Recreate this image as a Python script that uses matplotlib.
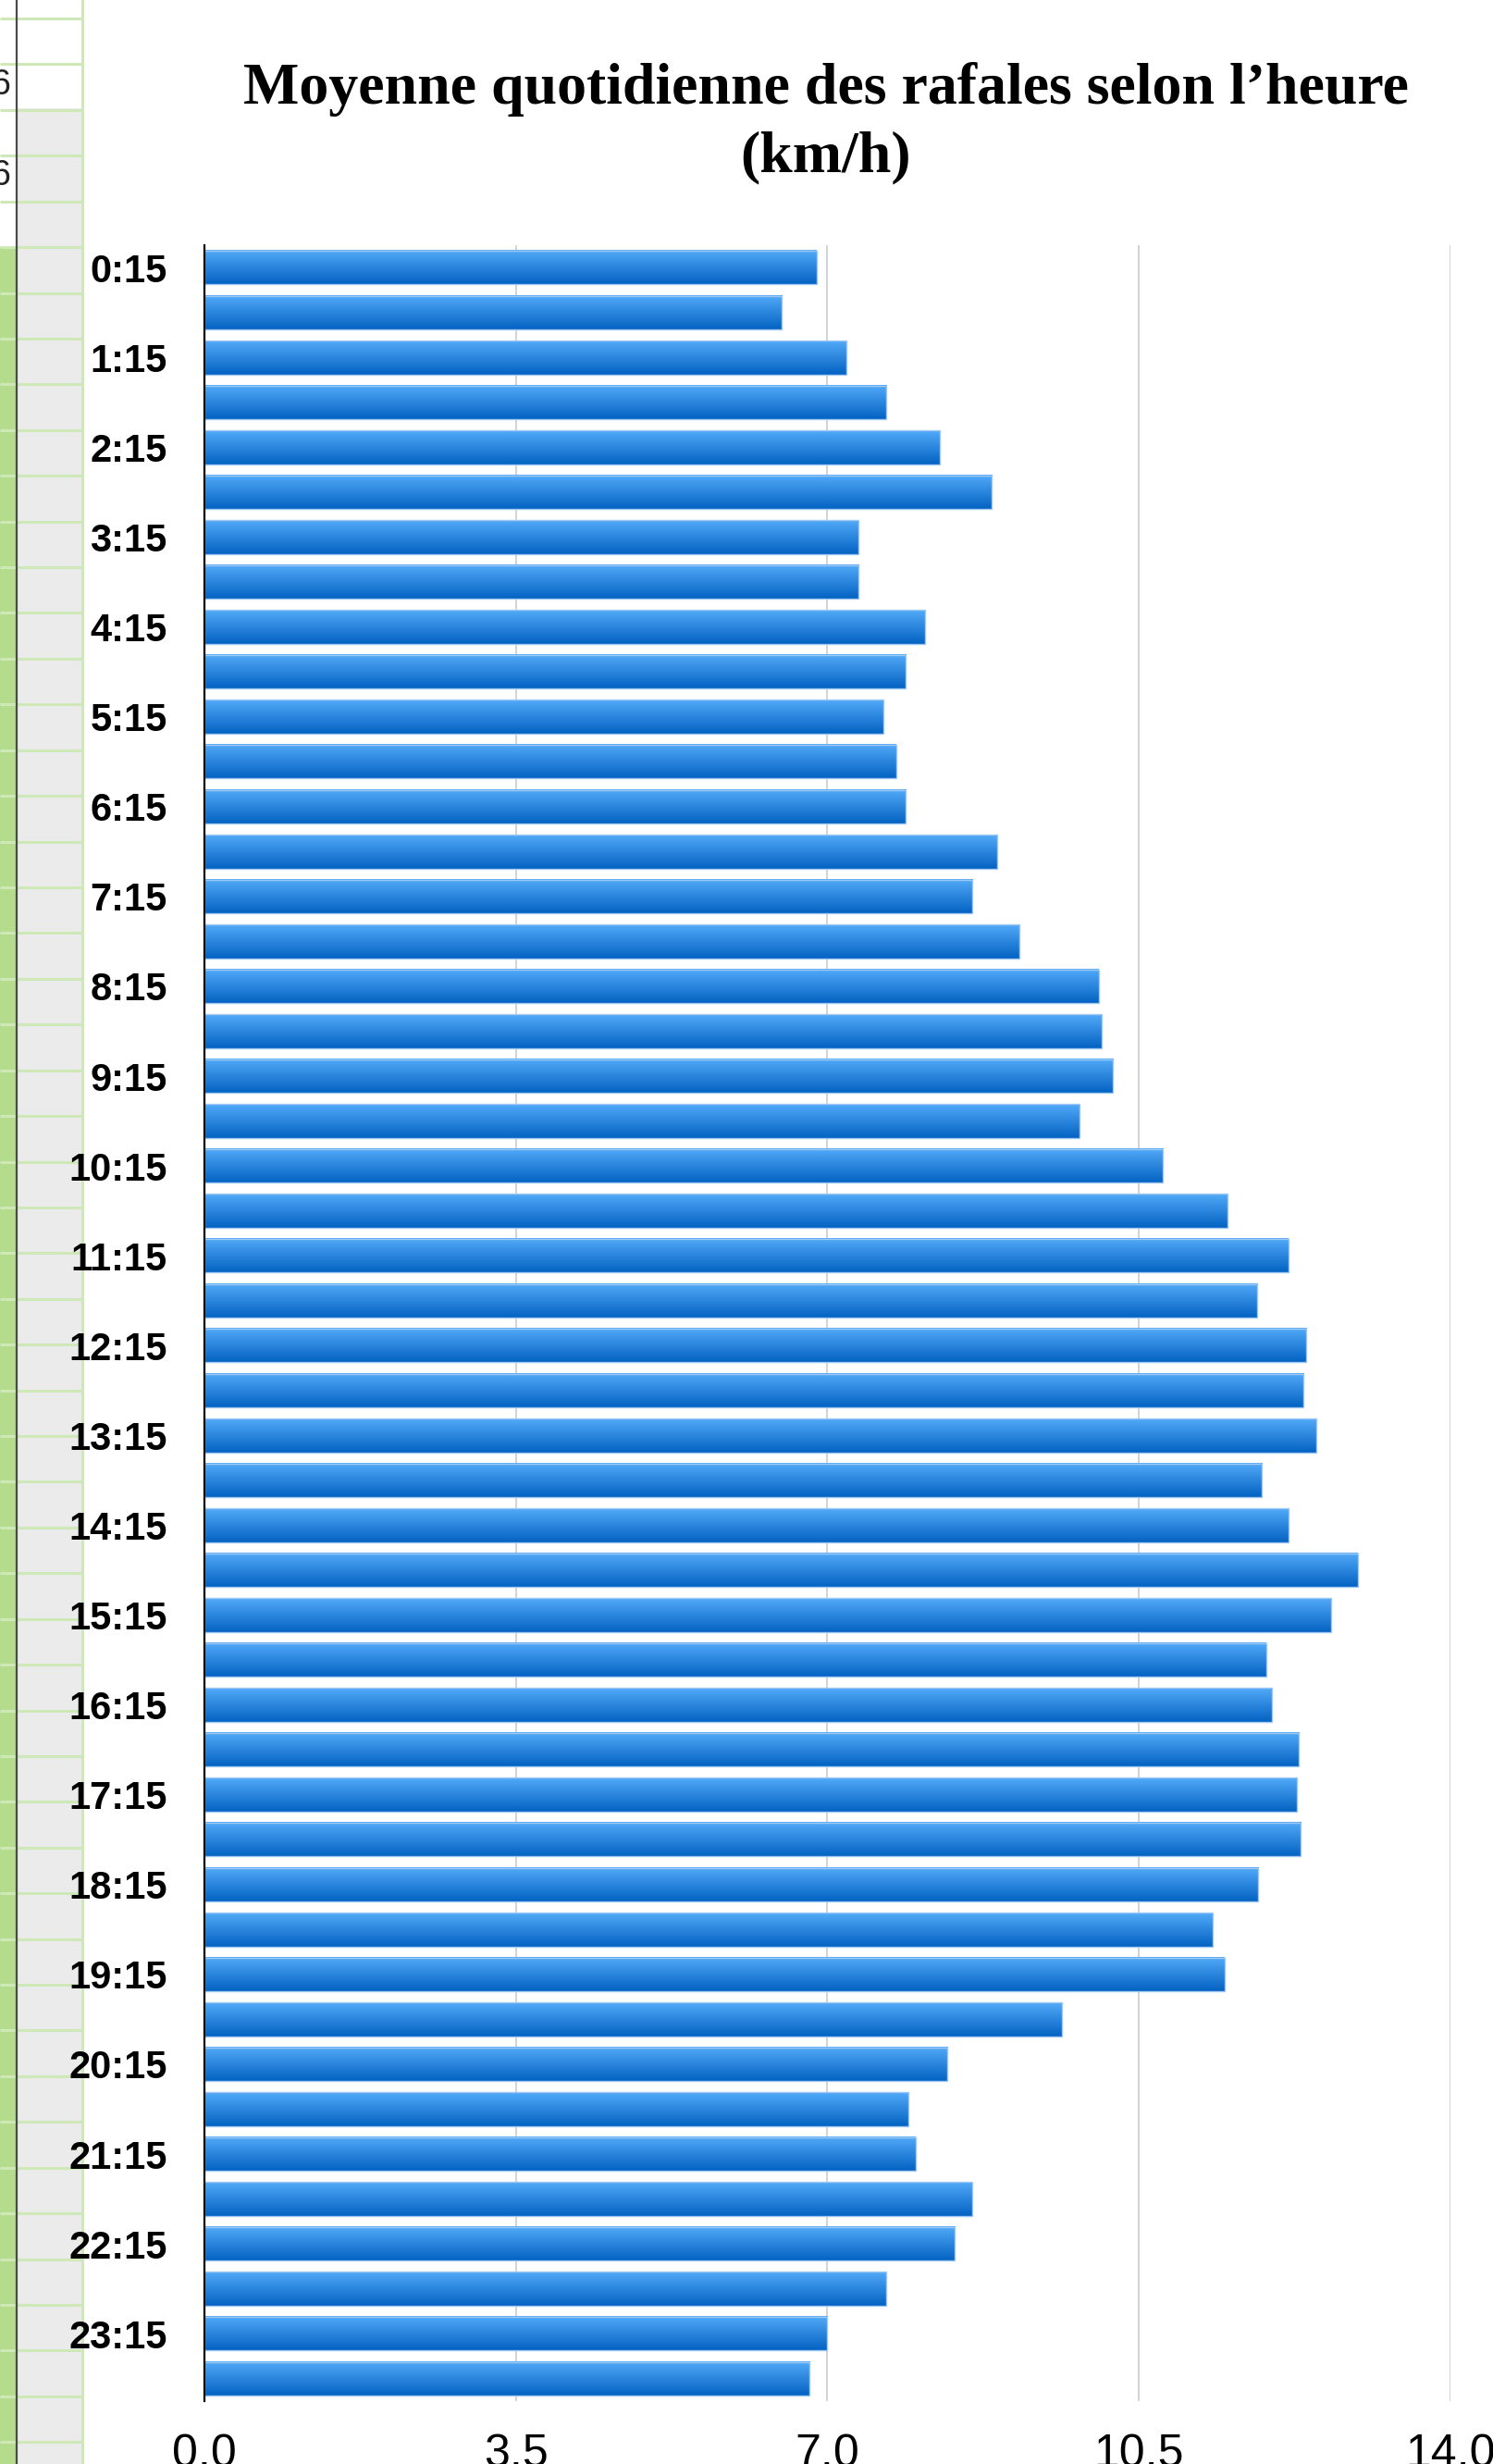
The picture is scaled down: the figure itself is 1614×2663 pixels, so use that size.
import numpy as np
import matplotlib
matplotlib.use("Agg")
import matplotlib.pyplot as plt
from matplotlib.patches import Rectangle

# half-hour slots, only the ":15" ones get a label
slots = [f"{h}:{m}" for h in range(24) for m in ("15", "45")]

# average gusts (km/h), one per slot
gusts = [6.88, 6.49, 7.21, 7.66, 8.26, 8.85, 7.35, 7.35,
         8.10, 7.88, 7.63, 7.77, 7.88, 8.91, 8.63, 9.16,
         10.05, 10.08, 10.21, 9.83, 10.77, 11.49, 12.18, 11.83,
         12.38, 12.35, 12.49, 11.88, 12.18, 12.96, 12.66, 11.93,
         11.99, 12.30, 12.27, 12.32, 11.84, 11.33, 11.46, 9.63,
         8.35, 7.91, 7.99, 8.63, 8.43, 7.66, 7.00, 6.80]

x_ticks = [0.0, 3.5, 7.0, 10.5, 14.0]
x_tick_labels = ["0.0", "3.5", "7.0", "10.5", "14.0"]

title_line1 = "Moyenne quotidienne des rafales selon l\u2019heure"
title_line2 = "(km/h)"

W, H = 1615, 2663
fig = plt.figure(figsize=(W / 100, H / 100), dpi=100)

# --- spreadsheet strip peeking out on the left (pixel coordinates) ---
bg = fig.add_axes([0, 0, 1, 1], zorder=0)
bg.set_xlim(0, W)
bg.set_ylim(H, 0)
bg.axis("off")
bg.add_patch(Rectangle((0, 267), 17, H - 267, color="#b4dc8c", lw=0))
bg.add_patch(Rectangle((19, 117), 69, H - 117, color="#ebebeb", lw=0))
for k in range(54):
    yy = 20 + k * 49.42
    bg.plot([0, 89], [yy, yy], color="#cfe8b8", lw=2.2, solid_capstyle="butt")
bg.plot([89, 89], [0, H], color="#cfe8b8", lw=2.2)
bg.plot([18, 18], [0, H], color="#4a4a4a", lw=1.6)
bg.text(11, 92, "6", ha="right", va="center", fontsize=27, color="#222222",
        family="Liberation Sans")
bg.text(11, 190, "6", ha="right", va="center", fontsize=27, color="#222222",
        family="Liberation Sans")

# --- chart ---
ax = fig.add_axes([221 / W, 1 - 2595 / H, 1347 / W, 2330 / H], zorder=1)
ax.set_facecolor("none")

ypos = np.arange(len(gusts))
bars = ax.barh(ypos, gusts, height=0.75, color="none",
               edgecolor="#9fc8f2", linewidth=1.0, zorder=3)

# vertical gradient inside each bar
top = np.array([0x52, 0xaa, 0xf8]) / 255
bot = np.array([0x04, 0x62, 0xc2]) / 255
t = np.linspace(0, 1, 64)[:, None]
grad = (top * (1 - t) + bot * t)[:, None, :]
for b in bars:
    y0 = b.get_y()
    h = b.get_height()
    ax.imshow(grad, extent=(0, b.get_width(), y0 + h, y0), origin="upper",
              aspect="auto", interpolation="bilinear", zorder=2)

ax.set_xlim(0, 14)
ax.set_ylim(len(gusts) - 0.5, -0.5)

ax.set_xticks(x_ticks)
ax.set_xticklabels(x_tick_labels, fontsize=36, family="Liberation Sans")
ax.set_yticks(ypos[::2])
ax.set_yticklabels(slots[::2], fontsize=30, fontweight="bold",
                   family="Liberation Sans")
ax.tick_params(axis="x", length=0, pad=25)
ax.tick_params(axis="y", length=0, pad=29)

ax.grid(axis="x", color="#c8c8c8", lw=1.1, zorder=1)
ax.set_axisbelow(True)
for s in ("top", "right", "bottom"):
    ax.spines[s].set_visible(False)
ax.spines["left"].set_color("black")
ax.spines["left"].set_linewidth(1.6)
ax.spines["left"].set_zorder(4)

fig.text(893 / W, 1 - 97 / H, title_line1, ha="center", va="center",
         fontsize=46, fontweight="bold", family="Liberation Serif")
fig.text(893 / W, 1 - 170 / H, title_line2, ha="center", va="center",
         fontsize=46, fontweight="bold", family="Liberation Serif")

fig.savefig("out.png", dpi=100)
